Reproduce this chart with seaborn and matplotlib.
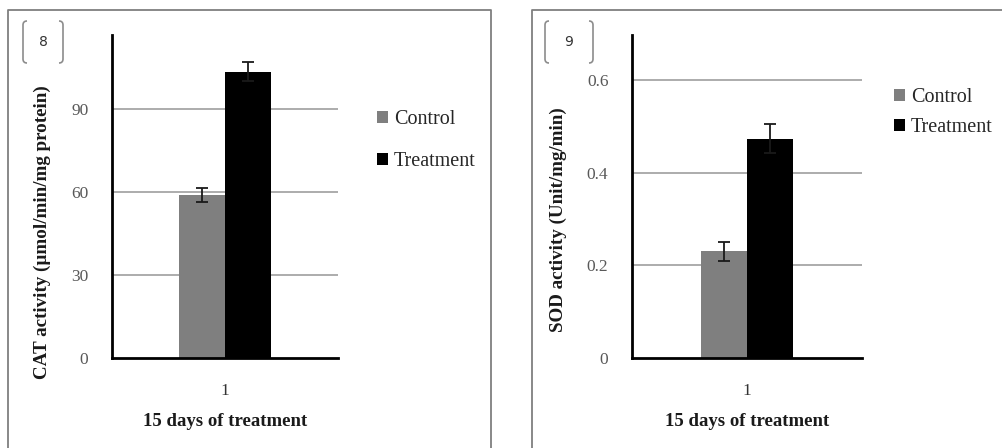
import numpy as np
import pandas as pd
import matplotlib
matplotlib.use("Agg")
import matplotlib.pyplot as plt
import seaborn as sns
from matplotlib.lines import Line2D
from matplotlib.path import Path
from matplotlib.patches import PathPatch, Patch

# ---------------- data ----------------
groups = ["Control", "Treatment"]
period = ["1"]
cat_values = [59.0, 103.5]
cat_errors = [2.5, 3.5]
sod_values = [0.230, 0.473]
sod_errors = [0.021, 0.031]
cat_ticks = [0, 30, 60, 90]
cat_ticklabels = ["0", "30", "60", "90"]
sod_ticks = [0, 0.2, 0.4, 0.6]
sod_ticklabels = ["0", "0.2", "0.4", "0.6"]
bar_colors = ["#7f7f7f", "#000000"]

sns.set_theme(style="white")
plt.rcParams["font.family"] = ["Liberation Serif", "DejaVu Serif"]

W, H = 1003, 448
fig = plt.figure(figsize=(W / 100, H / 100), dpi=100)


def fx(x):
    return x / W


def fy(y):
    return 1 - y / H


def px_axes(x0, y0, x1, y1):
    return fig.add_axes([fx(x0), fy(y1), (x1 - x0) / W, (y1 - y0) / H])


def fig_line(xs, ys, color="#7f7f7f", lw=1.3):
    fig.add_artist(Line2D([fx(x) for x in xs], [fy(y) for y in ys],
                          transform=fig.transFigure, color=color, lw=lw))


def bracket_label(xl, xr, yt, yb, text):
    c = "#8c8c8c"
    d = 4
    codes = [Path.MOVETO, Path.CURVE3, Path.CURVE3, Path.LINETO, Path.CURVE3, Path.CURVE3]
    for xe, sgn in ((xl, 1), (xr, -1)):
        verts = [(xe + sgn * d, yt), (xe, yt), (xe, yt + d), (xe, yb - d), (xe, yb),
                 (xe + sgn * d, yb)]
        p = Path([(fx(a), fy(b)) for a, b in verts], codes)
        fig.add_artist(PathPatch(p, fill=False, ec=c, lw=1.2, transform=fig.transFigure))
    fig.text(fx((xl + xr) / 2), fy((yt + yb) / 2), text, ha="center", va="center",
             fontsize=10, color="#333333", family=["DejaVu Sans"])


def panel(box, values, errors, ylim, ticks, ticklabels, width, ylabel,
          ylabel_x, ylabel_y, legend_xy, legend_spacing):
    ax = px_axes(*box)
    df = pd.DataFrame({"period": period * len(groups), "group": groups,
                       "value": values})
    sns.barplot(data=df, x="period", y="value", hue="group", hue_order=groups,
                palette=bar_colors, width=width, errorbar=None, saturation=1,
                legend=False, linewidth=0, edgecolor="none", ax=ax)
    for cont, err in zip(ax.containers, errors):
        bar = cont.patches[0]
        ax.errorbar(bar.get_x() + bar.get_width() / 2, bar.get_height(), yerr=err,
                    fmt="none", ecolor="#1a1a1a", elinewidth=1.3, capsize=4,
                    capthick=1.3, zorder=5)
    ax.set_xlim(-0.5, 0.5)
    ax.set_ylim(*ylim)
    ax.set_yticks(ticks)
    ax.set_yticklabels(ticklabels)
    for t in ticks[1:]:
        ax.axhline(t, color="#a6a6a6", lw=1.3, zorder=0)
    ax.set_axisbelow(True)
    for s in ["top", "right"]:
        ax.spines[s].set_visible(False)
    for s in ["left", "bottom"]:
        ax.spines[s].set_color("#000000")
        ax.spines[s].set_linewidth(2)
    ax.tick_params(axis="y", length=0, pad=17, labelsize=12.5, labelcolor="#595959")
    ax.tick_params(axis="x", length=0, pad=18, labelsize=12.5, labelcolor="#333333")
    ax.set_xlabel("15 days of treatment", fontsize=13.5, fontweight="bold",
                  color="#1a1a1a", labelpad=10)
    ax.set_ylabel("")
    fig.text(fx(ylabel_x), fy(ylabel_y), ylabel, rotation=90, ha="center",
             va="center", fontsize=13.7, fontweight="bold", color="#1a1a1a")
    handles = [Patch(facecolor=c, edgecolor="none") for c in bar_colors]
    ax.legend(handles, groups, loc="upper left",
              bbox_to_anchor=(fx(legend_xy[0]), fy(legend_xy[1])),
              bbox_transform=fig.transFigure, frameon=False, fontsize=14.5,
              handlelength=0.55, handleheight=0.55, handletextpad=0.3,
              labelspacing=legend_spacing, borderpad=0, borderaxespad=0)
    return ax


# frames
fig_line([8, 8, 491, 491], [H, 10, 10, H])
fig_line([532, 532, W], [H, 10, 10])

panel((112, 35, 338, 358), cat_values, cat_errors, (0, 116.7), cat_ticks,
      cat_ticklabels, 0.407, "CAT activity (\u00b5mol/min/mg protein)",
      42, 232, (377, 110), 1.15)
panel((632, 35, 862, 358), sod_values, sod_errors, (0, 0.697), sod_ticks,
      sod_ticklabels, 0.404, "SOD activity (Unit/mg/min)",
      558, 220, (894, 88), 0.55)

bracket_label(23, 63, 21, 63, "8")
bracket_label(545, 593, 21, 63, "9")

fig.savefig("out.png", dpi=100, facecolor="white")
